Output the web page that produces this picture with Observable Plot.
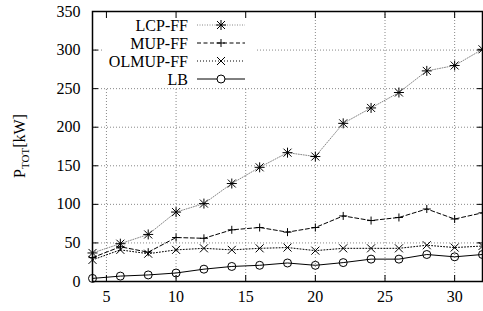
<!DOCTYPE html>
<html><head><meta charset="utf-8">
<script src="https://cdn.jsdelivr.net/npm/d3@7"></script>
<script src="https://cdn.jsdelivr.net/npm/@observablehq/plot@0.6"></script>
<style>
body{margin:0;background:#fff}
svg{display:block}
</style>
</head><body><div id="chart"></div>
<script>
const nodes = [4, 6, 8, 10, 12, 14, 16, 18, 20, 22, 24, 26, 28, 30, 32];
const lcpFF = [37, 49, 61, 90, 101, 127, 148, 167, 162, 205, 225, 245, 273, 280, 301];
const mupFF = [31, 45, 38, 57, 56, 67, 70, 64, 70, 85, 79, 83, 94, 81, 89];
const olmupFF = [28, 41, 36, 41, 43, 41, 43, 44, 40, 43, 43, 43, 47, 44, 46];
const lb = [4, 7, 8.5, 11, 16, 19.5, 21, 24, 21, 24.5, 29, 29, 35, 32, 35];
const seriesNames = ["LCP-FF", "MUP-FF", "OLMUP-FF", "LB"];
const xTicks = [5, 10, 15, 20, 25, 30];
const yTicks = [0, 50, 100, 150, 200, 250, 300, 350];

const FONT = "Liberation Serif";

const symPlus = {draw(ctx, size) { const r = Math.sqrt(size / Math.PI); ctx.moveTo(-r, 0); ctx.lineTo(r, 0); ctx.moveTo(0, -r); ctx.lineTo(0, r); }};
const symTimes = {draw(ctx, size) { const r = Math.sqrt(size / Math.PI); ctx.moveTo(-r, -r); ctx.lineTo(r, r); ctx.moveTo(-r, r); ctx.lineTo(r, -r); }};
const symStar = {draw(ctx, size) { const r = Math.sqrt(size / Math.PI); const q = r * 0.8;
  ctx.moveTo(-r, 0); ctx.lineTo(r, 0); ctx.moveTo(0, -r); ctx.lineTo(0, r);
  ctx.moveTo(-q, -q); ctx.lineTo(q, q); ctx.moveTo(-q, q); ctx.lineTo(q, -q); }};

const valuesBySeries = [lcpFF, mupFF, olmupFF, lb];
const styles = [
  {stroke: "#888", dash: "1,1.5", width: 1, sym: symStar, r: 5},
  {stroke: "#000", dash: "4,2.5", width: 1, sym: symPlus, r: 4},
  {stroke: "#000", dash: "1,2", width: 1, sym: symTimes, r: 4},
  {stroke: "#000", dash: null, width: 1, sym: "circle", r: 4}
];
const data = seriesNames.map((name, i) => nodes.map((x, j) => ({series: name, x, y: valuesBySeries[i][j]})));

const lineMarks = [];
data.forEach((d, i) => {
  const s = styles[i];
  lineMarks.push(Plot.line(d, {x: "x", y: "y", stroke: s.stroke, strokeWidth: s.width, strokeDasharray: s.dash}));
});
data.forEach((d, i) => {
  const s = styles[i];
  lineMarks.push(Plot.dot(d, {x: "x", y: "y", symbol: s.sym, r: s.r, stroke: "#000", strokeWidth: 1, fill: i === 3 ? "none" : null}));
});

function legendMark(index, scales, values, dims) {
  const g = d3.create("svg:g");
  g.append("rect").attr("x", 102).attr("y", dims.marginTop + 1).attr("width", 154).attr("height", 75).attr("fill", "#fff");
  seriesNames.forEach((name, i) => {
    const s = styles[i];
    const cy = 25 + i * 18;
    g.append("text").attr("x", 188).attr("y", cy).attr("dy", "0.35em").attr("text-anchor", "end").text(name);
    g.append("line").attr("x1", 197).attr("x2", 245).attr("y1", cy).attr("y2", cy)
      .attr("stroke", s.stroke).attr("stroke-dasharray", s.dash).attr("stroke-width", s.width);
    const sym = typeof s.sym === "string" ? d3.symbolCircle : s.sym;
    g.append("path").attr("transform", `translate(221,${cy})`)
      .attr("d", d3.symbol(sym, Math.PI * s.r * s.r)())
      .attr("fill", i === 3 ? "#fff" : "none").attr("stroke", "#000");
  });
  return g.node();
}

function yLabelMark(index, scales, values, dims) {
  const g = d3.create("svg:g");
  const t = g.append("text").attr("transform", "translate(25,146) rotate(-90)").attr("text-anchor", "middle");
  t.append("tspan").text("P");
  t.append("tspan").attr("class", "sub").attr("dy", "4").text("TOT");
  t.append("tspan").attr("dy", "-4").text("[kW]");
  return g.node();
}

const chart = Plot.plot({
  width: 483,
  height: 311,
  marginLeft: 92,
  marginRight: 1,
  marginTop: 11,
  marginBottom: 30,
  style: {background: "#fff"},
  x: {domain: [4, 32]},
  y: {domain: [0, 350]},
  marks: [
    Plot.gridX(xTicks, {stroke: "#888", strokeOpacity: 1, strokeDasharray: "1,2"}),
    Plot.gridY(yTicks.slice(1, -1), {stroke: "#888", strokeOpacity: 1, strokeDasharray: "1,2"}),
    ...lineMarks,
    legendMark,
    yLabelMark,
    Plot.axisX({anchor: "bottom", ticks: xTicks, tickSize: 0, tickPadding: 9, label: null}),
    Plot.axisX({anchor: "bottom", ticks: xTicks, tickSize: -6, text: null, label: null}),
    Plot.axisX({anchor: "top", ticks: xTicks, tickSize: -6, text: null, label: null}),
    Plot.axisY({anchor: "left", ticks: yTicks, tickSize: 0, tickPadding: 12, label: null}),
    Plot.axisY({anchor: "left", ticks: yTicks, tickSize: -6, text: null, label: null}),
    Plot.axisY({anchor: "right", ticks: yTicks, tickSize: -6, text: null, label: null}),
    Plot.frame({stroke: "#000", strokeWidth: 1.5})
  ]
});
const sel = d3.select(chart);
sel.attr("font-family", FONT).style("font-family", FONT).attr("font-size", 16).style("font-size", "16px");
sel.selectAll("g").attr("font-family", FONT).style("font-family", FONT).attr("font-size", null).style("font-size", "16px");
sel.selectAll("text").attr("font-family", FONT).style("font-family", FONT).style("font-size", "16px");
sel.selectAll("tspan.sub").style("font-size", "11px");
document.getElementById("chart").appendChild(chart);
</script>
</body></html>
